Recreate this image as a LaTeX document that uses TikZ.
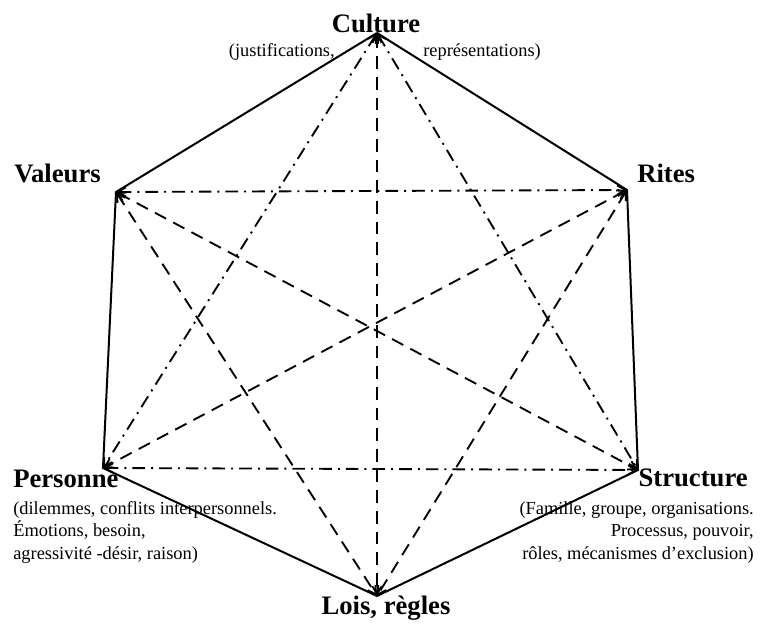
\documentclass[tikz,border=0pt]{standalone}
\usepackage{fontspec}
\setmainfont{Liberation Serif}
\usetikzlibrary{arrows.meta}
\definecolor{inkBlack}{RGB}{0,0,0}

\begin{document}
\begin{tikzpicture}[x=0.75pt,y=0.75pt,
  cote/.style={draw=inkBlack,line width=1.5pt},
  tiret/.style={draw=inkBlack,line width=1.4pt,dash pattern=on 9.5pt off 6pt,
    {Straight Barb[length=6pt,width=7pt]}-{Straight Barb[length=6pt,width=7pt]}},
  tiretpoint/.style={tiret,dash pattern=on 9.5pt off 4.5pt on 1.5pt off 4.5pt},
  titre/.style={font=\fontsize{20}{22}\selectfont\bfseries,inner sep=0pt},
  detail/.style={font=\fontsize{13.8}{16.9}\selectfont,inner sep=0pt}]
\useasboundingbox (0,0) rectangle (761,624);
\coordinate (culture) at (377,591);
\coordinate (valeurs) at (116,432);
\coordinate (rites) at (627,434);
\coordinate (personne) at (103,156);
\coordinate (structure) at (638,154);
\coordinate (lois) at (377,28);

\draw[cote] (culture) -- (valeurs) -- (personne) -- (lois) -- (structure) -- (rites) -- (culture);

\draw[tiret] (culture) -- (lois);
\draw[tiret] (valeurs) -- (structure);
\draw[tiret] (rites) -- (personne);
\draw[tiret] (valeurs) -- (lois);
\draw[tiret] (rites) -- (lois);
\draw[tiretpoint] (valeurs) -- (rites);
\draw[tiretpoint] (personne) -- (structure);
\draw[tiretpoint] (culture) -- (personne);
\draw[tiretpoint] (culture) -- (structure);

\node[titre,anchor=base] (cultureLbl) at (376,591) {Culture};
\node[detail,anchor=base east] (justifLbl) at (335,567) {(justifications,};
\node[detail,anchor=base west] (reprLbl) at (423,567) {représentations)};
\node[titre,anchor=base west] (valeursLbl) at (14,441) {Valeurs};
\node[titre,anchor=base west] (ritesLbl) at (637,441) {Rites};
\node[titre,anchor=base west] (personneLbl) at (13,136) {Personne};
\node[detail,anchor=north west,align=left] (personneTxt) at (13,123)
  {(dilemmes, conflits interpersonnels.\\Émotions, besoin,\\agressivité -désir, raison)};
\node[titre,anchor=base east] (structureLbl) at (748,137) {Structure};
\node[detail,anchor=north east,align=right] (structureTxt) at (754,123)
  {(Famille, groupe, organisations.\\Processus, pouvoir,\\rôles, mécanismes d’exclusion)};
\node[titre,anchor=base] (loisLbl) at (386,9) {Lois, règles};
\end{tikzpicture}
\end{document}
